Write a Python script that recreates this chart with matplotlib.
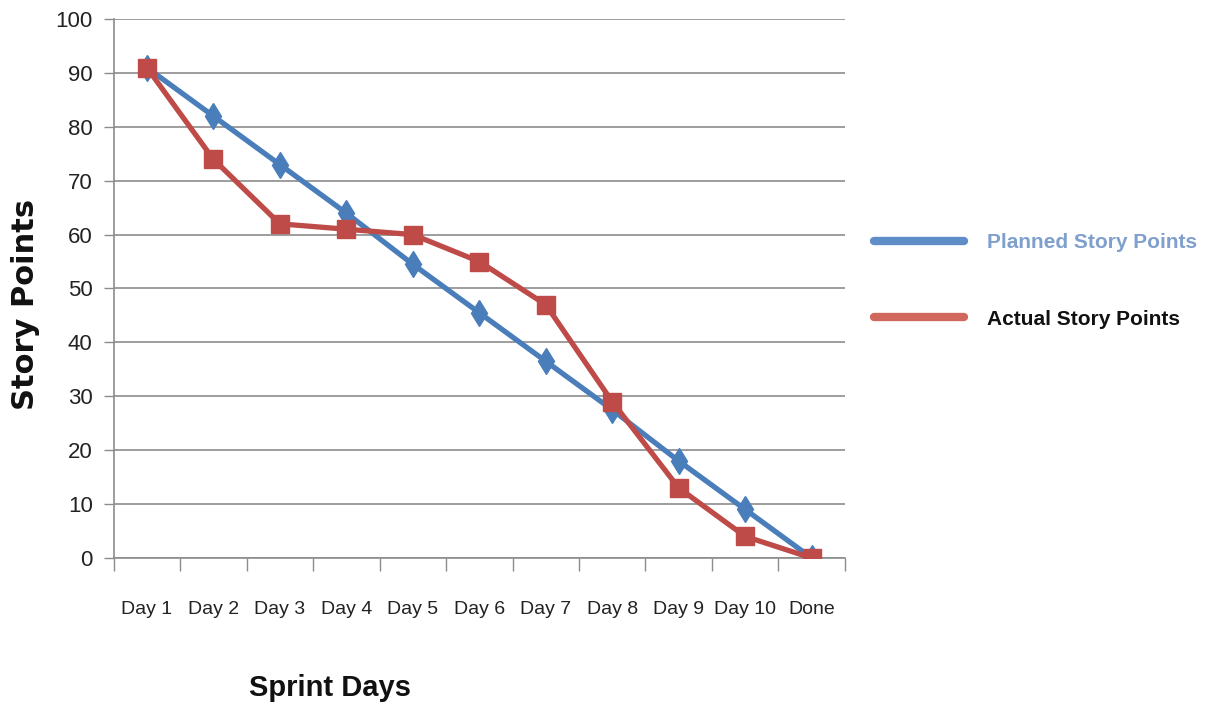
import matplotlib

matplotlib.use("Agg")
import matplotlib.pyplot as plt
from matplotlib.lines import Line2D

days = ["Day 1", "Day 2", "Day 3", "Day 4", "Day 5", "Day 6",
        "Day 7", "Day 8", "Day 9", "Day 10", "Done"]
planned = [91, 82, 73, 64, 54.5, 45.5, 36.5, 27.5, 18, 9, 0]
actual = [91, 74, 62, 61, 60, 55, 47, 29, 13, 4, 0]

BLUE = "#4a7ebb"
RED = "#be4b48"
GRID = "#8c8c8c"
SANS = ["Liberation Sans", "DejaVu Sans"]

fig = plt.figure(figsize=(12.17, 7.04), dpi=100)
ax = fig.add_axes([0.0933, 0.2074, 0.601, 0.7656])

x = list(range(len(days)))
ax.plot(x, planned, color=BLUE, linewidth=3.8, marker="d", markersize=13,
        markerfacecolor=BLUE, markeredgecolor=BLUE, zorder=3)
ax.plot(x, actual, color=RED, linewidth=3.8, marker="s", markersize=13,
        markerfacecolor=RED, markeredgecolor=RED, zorder=4)

ax.set_xlim(-0.5, len(days) - 0.5)
ax.set_ylim(0, 100)
ax.set_yticks(range(0, 101, 10))
ax.yaxis.grid(True, color=GRID, linewidth=1.2)
ax.set_axisbelow(True)

# category labels centred, tick marks on category boundaries
ax.set_xticks(x)
ax.set_xticklabels(days, family=SANS, fontsize=14, color="#222222")
ax.tick_params(axis="x", which="major", length=0, pad=31)
ax.set_xticks([i - 0.5 for i in range(len(days) + 1)], minor=True)
ax.tick_params(axis="x", which="minor", length=9, width=1, color=GRID, direction="out")
ax.tick_params(axis="y", length=7, width=1, color=GRID, pad=8)
for lab in ax.get_yticklabels():
    lab.set_family(SANS)
    lab.set_fontsize(16)
    lab.set_color("#222222")

for side in ("top", "right"):
    ax.spines[side].set_visible(False)
for side in ("left", "bottom"):
    ax.spines[side].set_color(GRID)
    ax.spines[side].set_linewidth(1.2)

fig.text(0.021, 0.567, "Story Points", rotation=90, ha="center", va="center",
         fontsize=22, fontweight="heavy", color="#111111")
fig.text(0.271, 0.023, "Sprint Days", ha="center", va="center",
         family=SANS, fontsize=21, fontweight="bold", color="#111111")

handles = [
    Line2D([], [], color="#5f8dc8", linewidth=6, solid_capstyle="round"),
    Line2D([], [], color="#d0685e", linewidth=6, solid_capstyle="round"),
]
leg = fig.legend(handles, ["Planned Story Points", "Actual Story Points"],
                 loc="upper left", bbox_to_anchor=(0.703, 0.695), frameon=False,
                 handlelength=4.3, handletextpad=1.1, labelspacing=2.75,
                 prop={"family": SANS, "size": 15, "weight": "bold"})
leg.get_texts()[0].set_color("#7f9fcc")
leg.get_texts()[1].set_color("#111111")

fig.savefig("out.png", dpi=100)
